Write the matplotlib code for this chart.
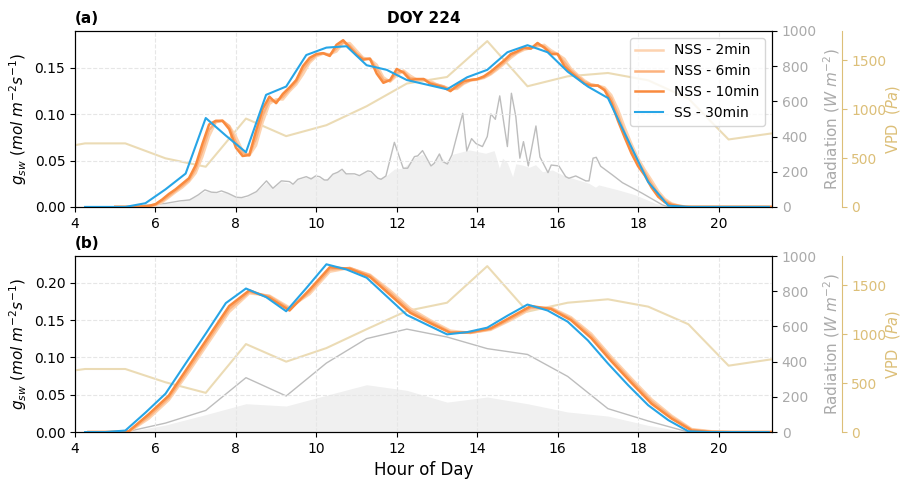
import numpy as np
import matplotlib
matplotlib.use('Agg')
import matplotlib.pyplot as plt

# ---- panel (a): 10-min NSS runs, 30-min SS run ----
t10 = np.arange(5, 21.5, 1/6)
nss10_a = [0, 0, 0, 0, 0.0005, 0.001, 0.003, 0.008, 0.014, 0.019, 0.025, 0.031,
           0.045, 0.068, 0.089, 0.093, 0.093, 0.084, 0.064, 0.055, 0.056, 0.082, 0.106, 0.119,
           0.112, 0.122, 0.129, 0.137, 0.152, 0.161, 0.165, 0.166, 0.163, 0.175, 0.180, 0.172,
           0.164, 0.159, 0.160, 0.144, 0.134, 0.137, 0.149, 0.145, 0.137, 0.138, 0.138, 0.133,
           0.131, 0.129, 0.125, 0.131, 0.136, 0.137, 0.138, 0.141, 0.146, 0.152, 0.158, 0.165,
           0.168, 0.172, 0.171, 0.177, 0.172, 0.165, 0.165, 0.152, 0.145, 0.139, 0.133, 0.131,
           0.131, 0.126, 0.113, 0.093, 0.075, 0.058, 0.044, 0.034, 0.021, 0.011, 0.005, 0.002,
           0.001, 0, 0, 0, 0, 0, 0, 0, 0, 0, 0, 0, 0, 0, 0]
nss6_a = [0, 0, 0, 0, 0.0003, 0.0008, 0.0024, 0.0065, 0.012, 0.0175, 0.023, 0.029,
          0.041, 0.061, 0.083, 0.092, 0.093, 0.087, 0.070, 0.058, 0.056, 0.074, 0.099, 0.115,
          0.114, 0.119, 0.127, 0.135, 0.148, 0.158, 0.164, 0.166, 0.164, 0.171, 0.178, 0.174,
          0.166, 0.160, 0.160, 0.149, 0.137, 0.136, 0.145, 0.146, 0.139, 0.138, 0.138, 0.134,
          0.132, 0.130, 0.126, 0.129, 0.134, 0.137, 0.138, 0.140, 0.144, 0.150, 0.156, 0.163,
          0.167, 0.171, 0.171, 0.175, 0.173, 0.167, 0.165, 0.156, 0.147, 0.141, 0.135, 0.132,
          0.131, 0.127, 0.117, 0.099, 0.080, 0.063, 0.048, 0.037, 0.025, 0.014, 0.007, 0.003,
          0.0013, 0.0003, 0, 0, 0, 0, 0, 0, 0, 0, 0, 0, 0, 0, 0]
nss2_a = [0, 0, 0, 0, 0.0002, 0.0007, 0.0018, 0.005, 0.0104, 0.016, 0.021, 0.0274,
          0.0366, 0.0542, 0.0764, 0.0914, 0.093, 0.0876, 0.076, 0.0604, 0.0554, 0.0664, 0.0916, 0.1112,
          0.1162, 0.116, 0.1248, 0.1322, 0.143, 0.1556, 0.1626, 0.1654, 0.1648, 0.1678, 0.177, 0.1768,
          0.1688, 0.161, 0.1594, 0.1536, 0.140, 0.1352, 0.1418, 0.1474, 0.1418, 0.1374, 0.138, 0.136,
          0.1322, 0.1302, 0.1274, 0.1274, 0.133, 0.1364, 0.1374, 0.1392, 0.143, 0.1484, 0.1544, 0.1608,
          0.1662, 0.1696, 0.1716, 0.1734, 0.175, 0.1692, 0.165, 0.160, 0.1492, 0.1426, 0.1366, 0.1322,
          0.131, 0.129, 0.1208, 0.1052, 0.0858, 0.0682, 0.0524, 0.040, 0.0288, 0.017, 0.0086, 0.0038,
          0.0016, 0.0004, 0, 0, 0, 0, 0, 0, 0, 0, 0, 0, 0, 0, 0]

t30 = np.arange(4.25, 21.5, 0.5)
ss_a = [0, 0, 0, 0.004, 0.019, 0.036, 0.096, 0.077, 0.059, 0.121, 0.130, 0.164,
        0.172, 0.1735, 0.153, 0.148, 0.137, 0.132, 0.127, 0.140, 0.148, 0.167, 0.1746, 0.167,
        0.146, 0.130, 0.1176, 0.072, 0.027, 0.0014, 0, 0, 0, 0, 0]

rad_t_a = [5.0, 5.5, 5.75, 6.0, 6.25, 6.6, 6.85, 7.06, 7.23, 7.39, 7.52, 7.64, 7.8, 8.01,
           8.14, 8.3, 8.51, 8.76, 8.92, 9.13, 9.33, 9.42, 9.54, 9.75, 9.87, 9.98, 10.08,
           10.2, 10.28, 10.41, 10.53, 10.64, 10.74, 10.95, 11.07, 11.28, 11.36, 11.53, 11.61,
           11.73, 11.94, 12.16, 12.27, 12.44, 12.52, 12.64, 12.85, 12.93, 13.06, 13.14, 13.26,
           13.37, 13.64, 13.74, 13.86, 13.97, 14.13, 14.25, 14.34, 14.45, 14.56, 14.75, 14.85,
           14.96, 15.06, 15.15, 15.27, 15.46, 15.56, 15.76, 15.84, 16.03, 16.2, 16.28, 16.45,
           16.7, 16.78, 16.88, 16.96, 17.07, 17.36, 17.61, 18.1, 18.6, 18.76, 19.0]
rad_a = [0, 1, 10, 15, 20, 34, 40, 68, 97, 84, 82, 91, 78, 55,
         53, 63, 87, 148, 106, 148, 144, 129, 157, 172, 159, 176, 172,
         153, 153, 186, 197, 214, 188, 188, 178, 205, 201, 163, 157,
         176, 367, 220, 220, 286, 290, 320, 233, 248, 301, 258, 244,
         295, 532, 318, 388, 360, 343, 400, 528, 498, 631, 343, 646,
         513, 277, 371, 233, 460, 284, 195, 238, 233, 172, 163, 176,
         148, 148, 277, 282, 231, 182, 138, 78, 12, 0, 0]

diff_t_a = [5.0, 5.5, 6.0, 6.6, 7.0, 7.23, 7.5, 7.75, 8.0, 8.25, 8.5, 8.76, 8.92, 9.13,
            9.42, 9.54, 9.75, 9.98, 10.2, 10.41, 10.64, 10.74, 11.07, 11.28, 11.53, 11.73,
            11.94, 12.16, 12.44, 12.64, 12.85, 13.06, 13.26, 13.4, 13.8, 14.21, 14.42, 14.55,
            14.63, 14.75, 14.88, 14.96, 15.12, 15.29, 15.45, 15.62, 15.87, 16.12, 16.45, 16.78,
            16.94, 17.02, 17.52, 17.94, 18.43, 18.68, 18.9]
diff_a = [0, 1, 12, 30, 60, 90, 80, 85, 55, 55, 85, 140, 106, 145,
          129, 155, 170, 172, 153, 185, 210, 188, 178, 203, 163, 176,
          215, 220, 280, 300, 235, 295, 244, 300, 324, 305, 320, 220,
          277, 250, 172, 245, 238, 225, 240, 200, 210, 182, 157, 134,
          112, 125, 96, 68, 20, 5, 0]

t_hr = np.arange(3.25, 22.5, 1.0)
vpd_a = [578, 650, 650, 497, 411, 904, 724, 836, 1030, 1262, 1329, 1696, 1234, 1336,
         1370, 1295, 1109, 690, 748, 800]

# ---- panel (b): hourly forcing ----
t30b = np.arange(4.25, 21.5, 0.5)
ss_b = [0, 0, 0.002, 0.026, 0.0515, 0.092, 0.132, 0.173, 0.1925, 0.181, 0.162, 0.193,
        0.225, 0.218, 0.207, 0.182, 0.157, 0.144, 0.131, 0.134, 0.140, 0.156, 0.171, 0.163,
        0.148, 0.123, 0.092, 0.063, 0.036, 0.016, 0.001, 0, 0, 0, 0]
tnb = np.arange(4.25 + 5/60, 21.5, 0.5)
nss10_b = [0, 0, 0.001, 0.024, 0.049, 0.089, 0.129, 0.169, 0.190, 0.180, 0.163, 0.191,
           0.221, 0.219, 0.208, 0.184, 0.160, 0.146, 0.133, 0.134, 0.139, 0.154, 0.169, 0.165,
           0.150, 0.126, 0.095, 0.066, 0.038, 0.018, 0.002, 0, 0, 0, 0]
nss6_b = [0, 0, 0.0005, 0.021, 0.046, 0.085, 0.125, 0.165, 0.188, 0.182, 0.165, 0.188,
          0.218, 0.220, 0.210, 0.187, 0.163, 0.148, 0.134, 0.133, 0.138, 0.152, 0.167, 0.166,
          0.152, 0.129, 0.098, 0.069, 0.041, 0.020, 0.003, 0.0005, 0, 0, 0]
nss2_b = [0, 0, 0, 0.018, 0.043, 0.081, 0.121, 0.161, 0.186, 0.183, 0.167, 0.185,
          0.215, 0.220, 0.211, 0.190, 0.166, 0.150, 0.136, 0.133, 0.137, 0.150, 0.165, 0.167,
          0.154, 0.132, 0.101, 0.072, 0.044, 0.022, 0.004, 0.001, 0, 0, 0]
t_hr_b = np.arange(4.25, 21.5, 1.0)
rad_b = [0, 0, 51, 123, 309, 205, 392, 531, 585, 540, 474, 441, 316, 133, 63, 0, 0, 0]
diff_b = [0, 0, 40, 99, 161, 148, 209, 269, 237, 170, 199, 161, 114, 91, 38, 0, 0, 0]
vpd_b = [590, 645, 645, 509, 401, 900, 720, 859, 1052, 1239, 1323, 1697, 1232, 1323,
         1358, 1283, 1103, 679, 740, 790]

c2, c6, c10 = '#fdd3b0', '#fcb27e', '#f98a3e'
c_ss = '#27a5e6'
c_vpd = '#dcbf78'
c_rad = '#aaaaaa'


def panel(pos, tag, title, gs, rad, vpd, ylim, legend=False, xlabel=False):
    ax = fig.add_axes(pos)
    axr = ax.twinx()
    axv = ax.twinx()
    axv.spines['right'].set_position(('axes', 1.1))
    for s in ['top', 'left', 'bottom']:
        axv.spines[s].set_visible(False)
    axv.spines['right'].set_color(c_vpd)

    (tf, yf, tr, yr) = rad
    axr.fill_between(tf, 0, yf, color='#f0f0f0', lw=0)
    axr.plot(tr, yr, color='#bdbdbd', lw=1)
    axr.set_ylim(0, 1000)
    axr.set_yticks(range(0, 1001, 200))
    axr.tick_params(axis='y', labelcolor=c_rad, labelsize=10)
    axr.set_ylabel(r'Radiation ($W\ m^{-2}$)', color=c_rad, fontsize=11, labelpad=3)

    axv.plot(t_hr, vpd, color=c_vpd, lw=1.5, alpha=0.55)
    axv.set_ylim(0, 1800)
    axv.set_yticks([0, 500, 1000, 1500])
    axv.tick_params(axis='y', colors=c_vpd, labelsize=10)
    axv.set_ylabel(r'VPD  ($Pa$)', color=c_vpd, fontsize=10.5, labelpad=-2)

    (tn, n2, n6, n10, ts, ss) = gs
    ax.plot(tn, n2, color=c2, lw=1.8, label='NSS - 2min')
    ax.plot(tn, n6, color=c6, lw=1.8, label='NSS - 6min')
    ax.plot(tn, n10, color=c10, lw=1.8, label='NSS - 10min')
    ax.plot(ts, ss, color=c_ss, lw=1.5, label='SS - 30min')
    ax.set_zorder(axv.zorder + 1)
    ax.patch.set_visible(False)
    ax.set_xlim(4, 21.33)
    ax.set_xticks(range(4, 21, 2))
    ax.set_ylim(*ylim)
    ax.tick_params(labelsize=10)
    ax.grid(True, ls='--', color='#e6e6e6', lw=0.8)
    ax.set_ylabel(r'$g_{sw}\ (mol\ m^{-2}s^{-1})$', fontsize=11)
    ax.set_title(tag, loc='left', fontweight='bold', fontsize=11)
    if title:
        ax.set_title(title, fontweight='bold', fontsize=11)
    if legend:
        ax.legend(loc='upper right', fontsize=10)
    if xlabel:
        ax.set_xlabel('Hour of Day', fontsize=12)
    return ax


fig = plt.figure(figsize=(9.04, 4.79), dpi=100)
panel([0.083, 0.568, 0.771, 0.3674], '(a)', 'DOY 224',
      (t10, nss2_a, nss6_a, nss10_a, t30, ss_a),
      (diff_t_a, diff_a, rad_t_a, rad_a), vpd_a, (0, 0.19), legend=True)
panel([0.083, 0.098, 0.771, 0.3674], '(b)', None,
      (tnb, nss2_b, nss6_b, nss10_b, t30b, ss_b),
      (t_hr_b, diff_b, t_hr_b, rad_b), vpd_b, (0, 0.236), xlabel=True)
fig.savefig('out.png', dpi=100)
